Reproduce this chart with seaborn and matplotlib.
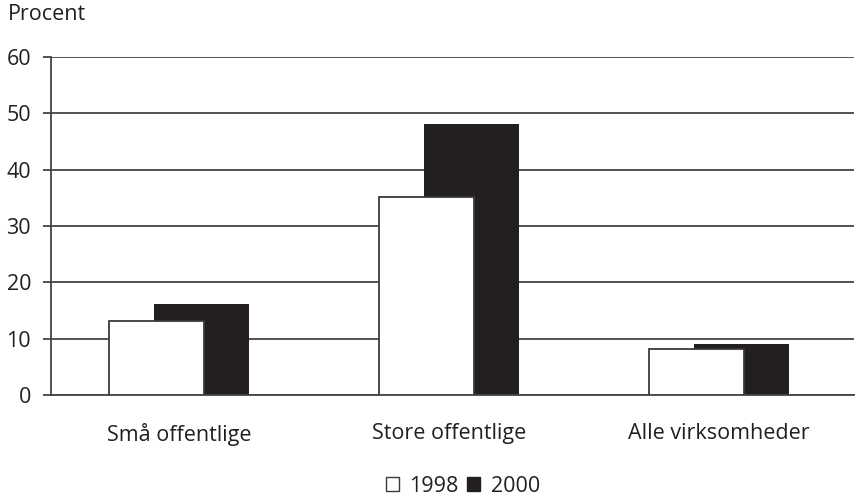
import matplotlib
matplotlib.use("Agg")
import matplotlib.pyplot as plt
from matplotlib.patches import Patch
import seaborn as sns
import numpy as np
import pandas as pd

categories = ["Små offentlige", "Store offentlige", "Alle virksomheder"]
years = ["1998", "2000"]
values_1998 = [13.1, 35.2, 8.2]
values_2000 = [16.2, 48.1, 9.1]
yticks = [0, 10, 20, 30, 40, 50, 60]
ylabel = "Procent"

sns.set_theme(style="white")
plt.rcParams["font.family"] = ["Open Sans", "DejaVu Sans"]

dark = "#231f20"
line = "#444444"
text_color = "#231f20"
fs = 15.5

fig = plt.figure(figsize=(8.55, 4.98), dpi=100)
ax = fig.add_axes([51 / 855, 1 - 395 / 498, (854 - 51) / 855, (395 - 57) / 498])

idx = np.arange(len(categories))
shift = 0.085
width = 0.352

df2000 = pd.DataFrame({"pos": idx + shift, "value": values_2000})
df1998 = pd.DataFrame({"pos": idx - shift, "value": values_1998})

# 2000 bars sit behind, 1998 bars overlap them in front
sns.barplot(data=df2000, x="pos", y="value", native_scale=True, width=width,
            color=dark, saturation=1, edgecolor=dark, linewidth=0,
            errorbar=None, ax=ax, zorder=2)
sns.barplot(data=df1998, x="pos", y="value", native_scale=True, width=width,
            color="white", saturation=1, edgecolor="#3a3a3a", linewidth=1.3,
            errorbar=None, ax=ax, zorder=3)

ax.set_xlim(-0.474, 2.5)
ax.set_ylim(0, 60)
ax.set_yticks(yticks)
ax.set_yticklabels([str(t) for t in yticks], fontsize=fs, color=text_color)
ax.set_xticks(idx)
ax.set_xticklabels(categories, fontsize=fs, color=text_color)
ax.set_xlabel("")
ax.set_ylabel("")

ax.set_axisbelow(True)
ax.yaxis.grid(True, color=line, linewidth=1.3)
ax.xaxis.grid(False)
for side in ["top", "right"]:
    ax.spines[side].set_visible(False)
ax.spines["left"].set_color(line)
ax.spines["left"].set_linewidth(1.3)
ax.spines["bottom"].set_color(line)
ax.spines["bottom"].set_linewidth(1.3)

ax.tick_params(axis="y", left=True, length=5.8, width=1.3, color=line, pad=8.5)
ax.tick_params(axis="x", bottom=False, length=0, pad=20)

fig.text(8 / 855, 1 - 14 / 498, ylabel, fontsize=fs, color=text_color,
         ha="left", va="center")

handles = [Patch(facecolor="white", edgecolor="#3a3a3a", linewidth=1.0),
           Patch(facecolor=dark, edgecolor=dark, linewidth=1.0)]
fig.legend(handles, years, loc="center", bbox_to_anchor=(463 / 855, 1 - 486 / 498),
           ncol=2, frameon=False, fontsize=fs, handlelength=0.6, handleheight=0.6,
           handletextpad=0.5, columnspacing=0.4, labelcolor=text_color,
           borderpad=0, borderaxespad=0)

fig.savefig("out.png", dpi=100)
